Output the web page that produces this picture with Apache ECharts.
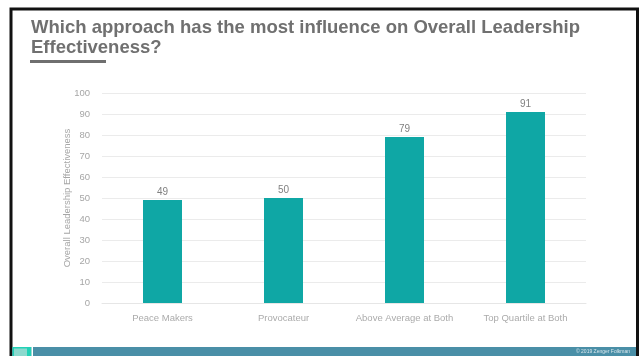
<!DOCTYPE html>
<html>
<head>
<meta charset="utf-8">
<script src="https://cdn.jsdelivr.net/npm/echarts@6/dist/echarts.min.js"></script>
<style>
html,body{margin:0;padding:0;background:#fff;}
#c{width:639px;height:356px;}
</style>
</head>
<body>
<div id="c"></div>
<script>
const categories = ["Peace Makers", "Provocateur", "Above Average at Both", "Top Quartile at Both"];
const values = [49, 50, 79, 91];
const yTicks = [0, 10, 20, 30, 40, 50, 60, 70, 80, 90, 100];
const titleLines = ["Which approach has the most influence on Overall Leadership", "Effectiveness?"];
const yAxisName = "Overall Leadership Effectiveness";
const footerText = "© 2019 Zenger Folkman";

const chart = echarts.init(document.getElementById('c'), null, {renderer: 'canvas'});
chart.setOption({
  animation: false,
  backgroundColor: '#ffffff',
  textStyle: {fontFamily: 'Liberation Sans, Arial, sans-serif'},
  title: {
    text: titleLines.join('\n'),
    left: 31, top: 18, padding: 0,
    textStyle: {fontSize: 18.5, fontWeight: 'bold', color: '#707070', lineHeight: 20, fontFamily: 'Liberation Sans, Arial, sans-serif'}
  },
  grid: {left: 102, right: 53, top: 93, bottom: 53},
  xAxis: {
    type: 'category',
    data: categories,
    axisLine: {show: true, lineStyle: {color: '#e6e6e6', width: 1}},
    axisTick: {show: false},
    axisLabel: {color: '#ababab', fontSize: 9.5, margin: 10, interval: 0}
  },
  yAxis: {
    type: 'value',
    min: yTicks[0], max: yTicks[yTicks.length - 1], interval: 10,
    name: yAxisName,
    nameLocation: 'middle',
    nameGap: 30,
    nameMoveOverlap: false,
    nameTextStyle: {color: '#a6a6a6', fontSize: 9.5},
    axisLine: {show: false},
    axisTick: {show: false},
    axisLabel: {color: '#a6a6a6', fontSize: 9.5, margin: 12},
    splitLine: {lineStyle: {color: '#ebebeb', width: 1}}
  },
  series: [{
    type: 'bar',
    data: values,
    barWidth: 39,
    itemStyle: {color: '#0fa7a5'},
    label: {show: true, position: 'top', color: '#808080', fontSize: 10, distance: 3}
  }],
  graphic: [
    {type: 'rect', shape: {x: 30, y: 60, width: 76, height: 3}, style: {fill: '#6f6f6f'}},
    {type: 'rect', shape: {x: 11, y: 9, width: 626.5, height: 360}, style: {fill: null, stroke: '#111111', lineWidth: 3}},
    {type: 'rect', shape: {x: 12.5, y: 347, width: 623.5, height: 9}, style: {fill: '#4a8fa7'}},
    {type: 'rect', shape: {x: 12.5, y: 347, width: 19, height: 9}, style: {fill: '#22d1b6'}},
    {type: 'rect', shape: {x: 14, y: 348.5, width: 13, height: 7.5}, style: {fill: '#8cd9ce'}},
    {type: 'rect', shape: {x: 31.5, y: 347, width: 1.5, height: 9}, style: {fill: '#ffffff'}},
    {type: 'text', x: 630, y: 352, style: {text: footerText, fill: '#d8e6ec', fontSize: 5, align: 'right', verticalAlign: 'middle', fontFamily: 'Liberation Sans, Arial, sans-serif'}}
  ]
});
</script>
</body>
</html>
